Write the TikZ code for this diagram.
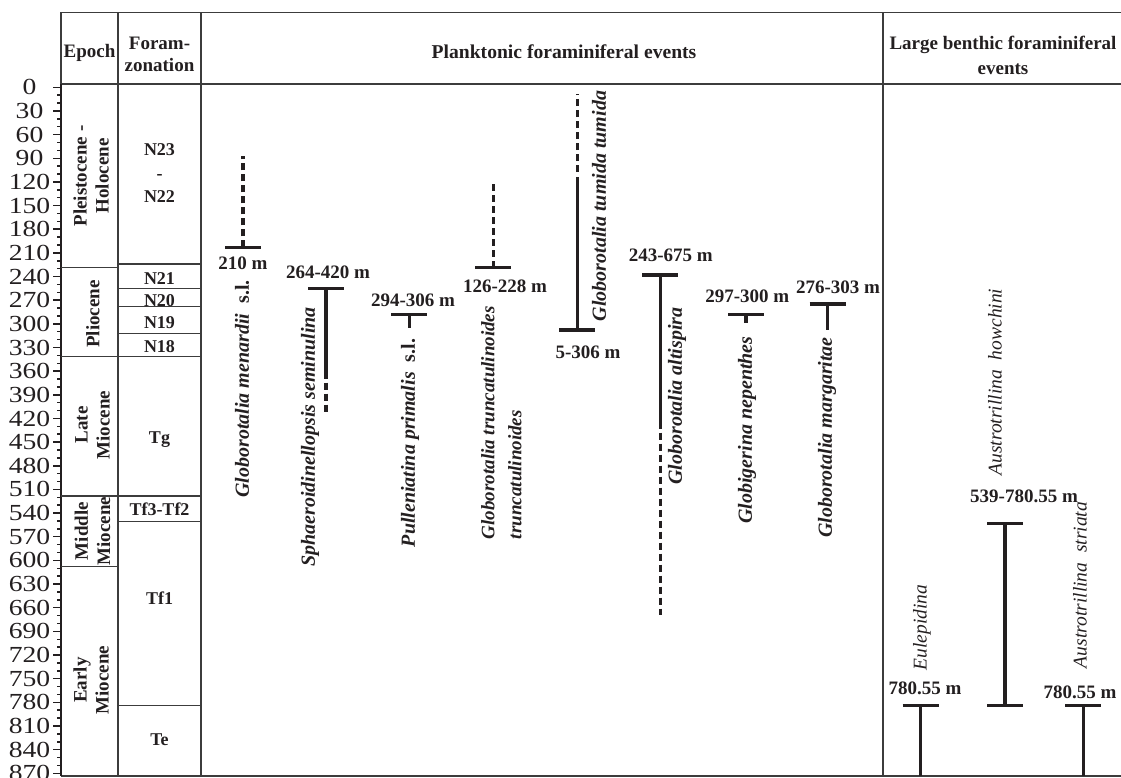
\documentclass[tikz,border=0pt]{standalone}
\usepackage{fontspec}
\setmainfont{Liberation Serif}
\usepackage{tikz}
\usetikzlibrary{positioning}
\definecolor{framegray}{HTML}{3C3C3C}
\definecolor{ink}{HTML}{231F20}
\tikzset{inner sep=0pt, outer sep=0pt, text=ink}
\tikzstyle{framed} = [draw=framegray, line width=1.3pt]
\tikzstyle{axisline} = [draw=ink, line width=2.6pt]
\tikzstyle{depthtick} = [draw=ink, line width=1.5pt]
\tikzstyle{depthnum} = [xscale=1.2, font=\fontsize{23}{23}\selectfont]
\tikzstyle{head} = [font=\fontsize{19}{22}\selectfont\bfseries, align=center]
\tikzstyle{zonelbl} = [font=\fontsize{18}{23.5}\selectfont\bfseries, align=center]
\tikzstyle{epoch} = [rotate=90, font=\fontsize{19}{22}\selectfont\bfseries, align=center]
\tikzstyle{depthlbl} = [font=\fontsize{19}{19}\selectfont\bfseries]
\tikzstyle{taxon} = [rotate=90, font=\fontsize{20}{27}\selectfont\bfseries\itshape, align=left]
\tikzstyle{benthos} = [rotate=90, font=\fontsize{19.5}{24}\selectfont\itshape]
\tikzstyle{rangebar} = [draw=ink, line width=3.5pt]
\tikzstyle{uncertainbar} = [rangebar, dash pattern=on 7pt off 4pt]
\newcommand{\senslat}{{\upshape s.l.}}

\begin{document}
\begin{tikzpicture}[x=1pt, y=-1pt]
			\useasboundingbox (0,0) rectangle (1121,778);

			\draw [framed] (61,12.5) -- (1121,12.5);
			\draw [framed] (61,84) -- (1121,84);
			\draw [framed] (61,776) -- (1121,776);
			\draw [framed] (61,12.5) -- (61,84);
			\draw [framed] (118,12.5) -- (118,776);
			\draw [framed] (201,12.5) -- (201,776);
			\draw [framed] (883,12.5) -- (883,776);
			\draw [axisline] (61,84) -- (61,776);

			\foreach \d in {0,10,...,880} {
				\pgfmathsetmacro{\yy}{87.3+\d*0.7885}
				\draw [depthtick] (57,\yy) -- (61,\yy);
			}
			\foreach \d in {0,30,...,870} {
				\pgfmathsetmacro{\yy}{87.3+\d*0.7885}
				\draw [depthtick] (53,\yy) -- (61,\yy);
				\node [depthnum] (d\d) at (29.5,\yy) {\d};
			}

			\node [head] (epoch_head) at (89.5,53) {Epoch};
			\node [head] (zone_head) at (159.5,54) {Foram-\\zonation};
			\node [head, font=\fontsize{19.6}{22}\selectfont\bfseries] (plank_head) at (564,52) {Planktonic foraminiferal events};
			\node [head, font=\fontsize{19}{25}\selectfont\bfseries] (benth_head) at (1003,55.5) {Large benthic foraminiferal\\events};

			\foreach \y in {267.3,356.3,496,566.7}
				\draw [framed] (61,\y) -- (118,\y);
			\foreach \y in {264,288.3,306.3,333.7,356.3,496,521.3,705.7}
				\draw [framed] (118,\y) -- (201,\y);

			\node [epoch] (pleist) at (91,176) {Pleistocene -\\Holocene};
			\node [epoch] (plio) at (93,314) {Pliocene};
			\node [epoch] (late_mio) at (92.5,425) {Late\\Miocene};
			\node [epoch] (mid_mio) at (92.5,531) {Middle\\Miocene};
			\node [epoch] (early_mio) at (91,680) {Early\\Miocene};

			\node [zonelbl] (n23) at (159.5,173.5) {N23\\-\\N22};
			\node [zonelbl] (n21) at (159.5,279) {N21};
			\node [zonelbl] (n20) at (159.5,301) {N20};
			\node [zonelbl] (n19) at (159.5,322.7) {N19};
			\node [zonelbl] (n18) at (159.5,346.7) {N18};
			\node [zonelbl] (tg) at (159.5,439.3) {Tg};
			\node [zonelbl] (tf3) at (159.5,509.5) {Tf3-Tf2};
			\node [zonelbl] (tf1) at (159.5,598.3) {Tf1};
			\node [zonelbl] (te) at (159.5,739.3) {Te};

			\coordinate (menardii) at (243,247.3);
			\coordinate (seminulina) at (326,288.7);
			\coordinate (primalis) at (409.3,314.3);
			\coordinate (truncat) at (493.3,267.7);
			\coordinate (tumida) at (577.3,330);
			\coordinate (altispira) at (660.3,275);
			\coordinate (nepenthes) at (746,314.3);
			\coordinate (margaritae) at (827.7,304);
			\coordinate (eulep) at (920.7,705.7);
			\coordinate (howchini_t) at (1005,523.3);
			\coordinate (howchini_b) at (1005,705.7);
			\coordinate (striata) at (1083.3,705.7);

			\draw [uncertainbar] (menardii) -- ++(0,-91);
			\draw [rangebar] (seminulina) -- ++(0,83) coordinate (seminulina_x);
			\draw [uncertainbar] (seminulina_x) -- ++(0,40);
			\draw [rangebar] (primalis) -- ++(0,13.7);
			\draw [uncertainbar] (truncat) -- ++(0,-83.7);
			\draw [rangebar] (tumida) -- ++(0,-153.3) coordinate (tumida_x);
			\draw [uncertainbar] ([yshift=4.5pt]tumida_x) -- (577.3,94);
			\draw [rangebar] (altispira) -- ++(0,146.7) coordinate (altispira_x);
			\draw [uncertainbar] (altispira_x) -- ++(0,193.3);
			\draw [rangebar] (nepenthes) -- ++(0,8.4);
			\draw [rangebar] (margaritae) -- ++(0,26);
			\draw [rangebar] (eulep) -- ++(0,70.3);
			\draw [rangebar] (howchini_t) -- (howchini_b);
			\draw [rangebar] (striata) -- ++(0,70.3);

			\foreach \c in {menardii,seminulina,primalis,truncat,tumida,altispira,nepenthes,margaritae,eulep,howchini_t,howchini_b,striata}
				\draw [rangebar] ([xshift=-18pt]\c) -- ([xshift=18pt]\c);

			\node [depthlbl] (menardii_lbl) at (243,263) {210 m};
			\node [depthlbl] (seminulina_lbl) at (328,272.7) {264-420 m};
			\node [depthlbl] (primalis_lbl) at (413,300) {294-306 m};
			\node [depthlbl] (truncat_lbl) at (505,286.7) {126-228 m};
			\node [depthlbl] (tumida_lbl) at (588,352.7) {5-306 m};
			\node [depthlbl] (altispira_lbl) at (670.7,255) {243-675 m};
			\node [depthlbl] (nepenthes_lbl) at (747.3,296) {297-300 m};
			\node [depthlbl] (margaritae_lbl) at (838,287.3) {276-303 m};
			\node [depthlbl] (howchini_lbl) at (1024,496) {539-780.55 m};
			\node [depthlbl] (eulep_lbl) at (925,688.3) {780.55 m};
			\node [depthlbl] (striata_lbl) at (1080,692.3) {780.55 m};

			\node [taxon] (menardii_txt) at (242,389) {Globorotalia menardii\ \ \senslat};
			\node [taxon] (seminulina_txt) at (310,437) {Sphaeroidinellopsis seminulina};
			\node [taxon] (primalis_txt) at (410,443) {Pulleniatina primalis\ \ \senslat};
			\node [taxon, anchor=west, font=\fontsize{19}{27}\selectfont\bfseries\itshape] (truncat_txt) at (501.5,539) {Globorotalia truncatulinoides\\truncatulinoides};
			\node [taxon] (tumida_txt) at (599,206) {Globorotalia tumida tumida};
			\node [taxon] (altispira_txt) at (677,396) {Globorotalia altispira};
			\node [taxon] (nepenthes_txt) at (747,430) {Globigerina nepenthes};
			\node [taxon] (margaritae_txt) at (827,437.5) {Globorotalia margaritae};
			\node [benthos] (howchini_txt) at (995,382) {Austrotrillina\ \ howchini};
			\node [benthos] (eulep_txt) at (922,627.5) {Eulepidina};
			\node [benthos] (striata_txt) at (1080,585) {Austrotrillina\ \ striata};
		\end{tikzpicture}
\end{document}
